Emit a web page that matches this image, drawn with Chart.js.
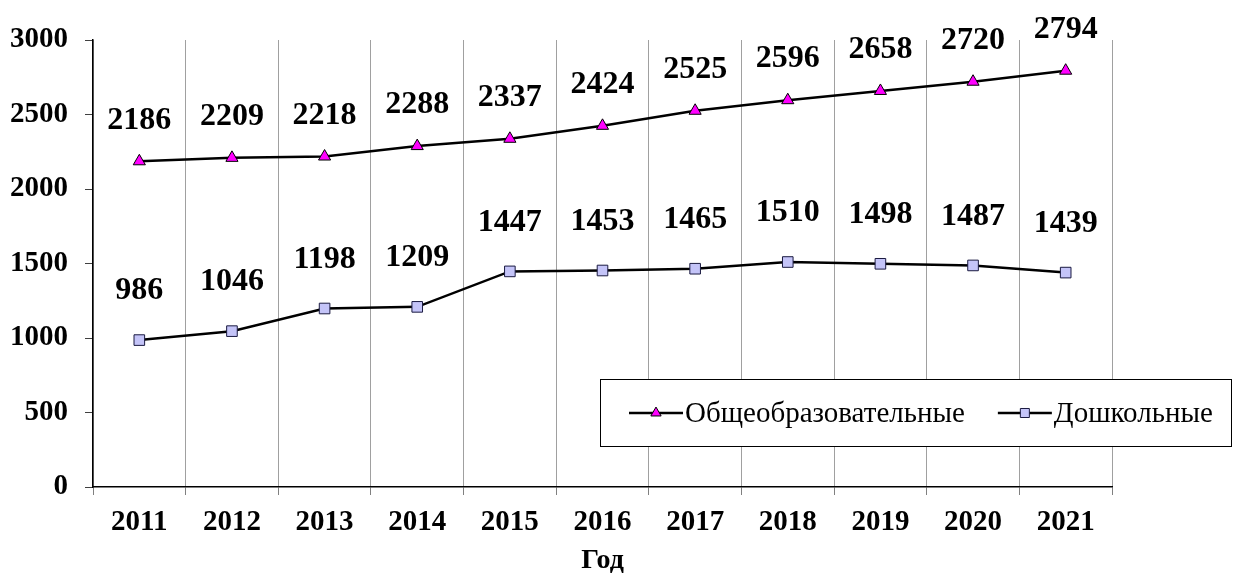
<!DOCTYPE html>
<html><head><meta charset="utf-8">
<script src="https://cdn.jsdelivr.net/npm/chart.js@4"></script>
<style>html,body{margin:0;padding:0;background:#fff}#wrap{width:1235px;height:575px}</style>
</head><body><div id="wrap"><canvas id="c" width="1235" height="575"></canvas></div>
<script>
const years = ['2011','2012','2013','2014','2015','2016','2017','2018','2019','2020','2021'];
const generalSchools = [2186,2209,2218,2288,2337,2424,2525,2596,2658,2720,2794];
const preschools = [986,1046,1198,1209,1447,1453,1465,1510,1498,1487,1439];
const yTickValues = [0,500,1000,1500,2000,2500,3000];
const seriesNames = ['Общеобразовательные','Дошкольные'];
const xAxisTitle = 'Год';

const SERIF = '"Liberation Serif","Times New Roman",serif';

const valueLabels = {
  id: 'valueLabels',
  afterDatasetsDraw(chart) {
    const ctx = chart.ctx;
    ctx.save();
    ctx.font = 'bold 32px ' + SERIF;
    ctx.fillStyle = '#000';
    ctx.textAlign = 'center';
    ctx.textBaseline = 'middle';
    chart.data.datasets.forEach((ds, i) => {
      const meta = chart.getDatasetMeta(i);
      meta.data.forEach((pt, j) => {
        ctx.fillText(String(ds.data[j]), pt.x, pt.y - ds.labelOffset);
      });
    });
    ctx.restore();
  }
};

const boxLegend = {
  id: 'boxLegend',
  afterDatasetsDraw(chart) {
    const ctx = chart.ctx;
    const ca = chart.chartArea;
    const box = {left: ca.left + 507, top: ca.top + 339, right: 1232, bottom: ca.top + 407};
    ctx.save();
    ctx.fillStyle = '#fff';
    ctx.fillRect(box.left, box.top, box.right - box.left, box.bottom - box.top);
    ctx.strokeStyle = '#000';
    ctx.lineWidth = 1;
    ctx.strokeRect(box.left + 0.5, box.top + 0.5, box.right - box.left - 1, box.bottom - box.top - 1);
    const cy = (box.top + box.bottom) / 2;
    let x = box.left + 29;
    chart.data.datasets.forEach((ds) => {
      ctx.strokeStyle = ds.borderColor;
      ctx.lineWidth = ds.borderWidth;
      ctx.beginPath();
      ctx.moveTo(x, cy);
      ctx.lineTo(x + 54, cy);
      ctx.stroke();
      ctx.fillStyle = ds.pointBackgroundColor;
      ctx.strokeStyle = ds.pointBorderColor;
      ctx.lineWidth = ds.pointBorderWidth;
      Chart.helpers.drawPoint(ctx, {
        pointStyle: ds.pointStyle, radius: ds.pointRadius * 0.85, rotation: 0,
        borderWidth: ds.pointBorderWidth
      }, x + 27, cy);
      ctx.font = '29px ' + SERIF;
      ctx.textBaseline = 'middle';
      ctx.textAlign = 'left';
      ctx.fillStyle = '#000';
      ctx.fillText(ds.label, x + 56, cy + 1);
      x = x + 56 + ctx.measureText(ds.label).width + 33;
    });
    ctx.restore();
  }
};

new Chart(document.getElementById('c'), {
  type: 'line',
  data: {
    labels: years,
    datasets: [
      {
        label: seriesNames[0], data: generalSchools, labelOffset: 41,
        borderColor: '#000', borderWidth: 2.5, tension: 0,
        pointStyle: 'triangle', pointRadius: 7, pointBorderWidth: 1,
        pointBackgroundColor: '#FF00FF', pointBorderColor: '#000'
      },
      {
        label: seriesNames[1], data: preschools, labelOffset: 49,
        borderColor: '#000', borderWidth: 2.5, tension: 0,
        pointStyle: 'rect', pointRadius: 7.5, pointBorderWidth: 1,
        pointBackgroundColor: '#C4C4F8', pointBorderColor: '#1a1a40'
      }
    ]
  },
  options: {
    responsive: false,
    animation: false,
    devicePixelRatio: 1,
    layout: {padding: {left: 0, right: 123, top: 40, bottom: 0}},
    plugins: {legend: {display: false}, tooltip: {enabled: false}},
    scales: {
      x: {
        offset: true,
        grid: {offset: true, color: '#a0a0a0', lineWidth: 1, drawTicks: true, tickLength: 8, tickColor: '#808080'},
        border: {color: '#000', width: 1.5},
        ticks: {color: '#000', padding: 10, maxRotation: 0, font: {family: SERIF, size: 29, weight: 'bold'}},
        title: {display: true, text: xAxisTitle, color: '#000', padding: {top: 0, bottom: 0},
                font: {family: SERIF, size: 28, weight: 'bold', lineHeight: 1}},
        afterFit(scale) { scale.height = 88; }
      },
      y: {
        min: 0, max: 3000,
        afterBuildTicks(scale) { scale.ticks = yTickValues.map(v => ({value: v})); },
        grid: {drawOnChartArea: false, drawTicks: true, tickLength: 8, tickColor: '#404040'},
        border: {color: '#000', width: 1.5},
        ticks: {color: '#000', padding: 17, font: {family: SERIF, size: 29, weight: 'bold'},
                callback: (v) => String(v)},
        afterFit(scale) { scale.width = 93; }
      }
    }
  },
  plugins: [valueLabels, boxLegend]
});
</script>
</body></html>
